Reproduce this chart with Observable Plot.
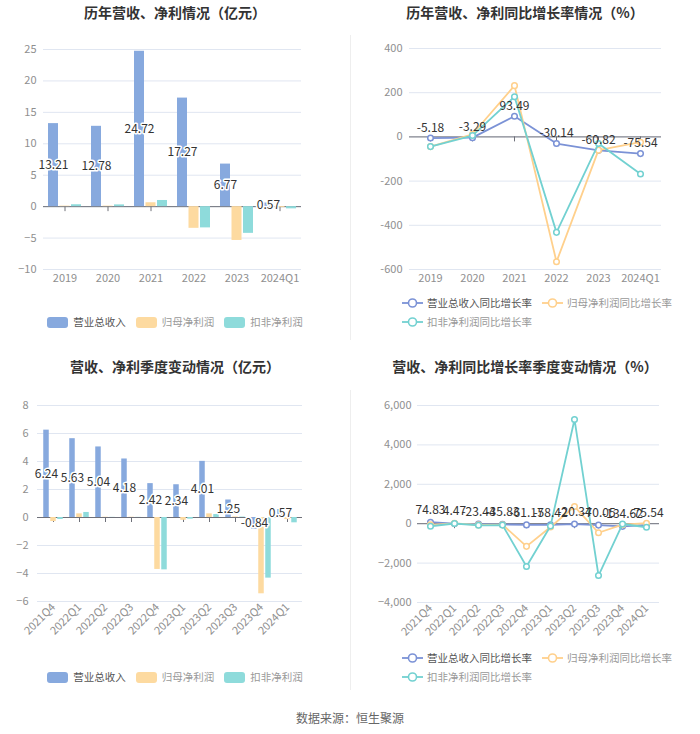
<!DOCTYPE html>
<html><head><meta charset="utf-8">
<script src="https://cdn.jsdelivr.net/npm/d3@7"></script>
<script src="https://cdn.jsdelivr.net/npm/@observablehq/plot@0.6"></script>
<style>
body{margin:0;background:#fff;font-family:"Noto Sans CJK SC","Noto Sans",sans-serif;}
#root{position:relative;width:700px;height:734px;overflow:hidden;background:#fff;}
.panel{position:absolute;}
.title{position:absolute;width:350px;text-align:center;font-size:14px;font-weight:bold;color:#333;line-height:20px;}
.legend{position:absolute;display:flex;font-size:10.5px;color:#666;line-height:14px;align-items:center;}
.item{display:flex;align-items:center;margin-right:10px;white-space:nowrap;}
.sw{display:inline-block;width:21px;height:11px;border-radius:3px;margin-right:5px;}
.item svg{margin-right:4px;}
.sep{position:absolute;left:350px;width:1px;background:#eeeeee;}
.src{position:absolute;left:0;width:700px;top:709px;text-align:center;font-size:12px;color:#666;}
</style>
</head><body>
<div id="root"></div>
<script>
// ---------- data ----------
const years = ["2019","2020","2021","2022","2023","2024Q1"];
const yearRevenue = [13.21, 12.78, 24.72, 17.27, 6.77, 0.57];
const yearNetProfit = [0.08, 0.08, 0.62, -3.45, -5.38, -0.15];
const yearDeducted = [0.30, 0.28, 0.98, -3.38, -4.25, -0.35];

const yearRevenueGrowth = [-5.18, -3.29, 93.49, -30.14, -60.82, -75.54];
const yearNetProfitGrowth = [-44, 12, 232, -565, -60, -24];
const yearDeductedGrowth = [-44, 6, 182, -432, -30, -168];

const quarters = ["2021Q4","2022Q1","2022Q2","2022Q3","2022Q4","2023Q1","2023Q2","2023Q3","2023Q4","2024Q1"];
const qRevenue = [6.24, 5.63, 5.04, 4.18, 2.42, 2.34, 4.01, 1.25, -0.84, 0.57];
const qNetProfit = [-0.29, 0.26, 0.02, 0.02, -3.71, -0.20, 0.26, 0.04, -5.45, -0.15];
const qDeducted = [-0.14, 0.36, 0.01, 0.01, -3.74, -0.12, 0.21, 0.03, -4.33, -0.38];

const qRevenueGrowth = [74.83, 4.47, -23.44, -35.83, -61.17, -58.42, -20.34, -70.05, -134.62, -75.54];
const qNetProfitGrowth = [-60, 20, -60, -50, -1150, -170, 870, -460, -47, 25];
const qDeductedGrowth = [-130, 10, -80, -70, -2170, -120, 5290, -2630, -16, -180];

const yTicksYearBar = [-10, -5, 0, 5, 10, 15, 20, 25];
const yTicksYearLine = [-600, -400, -200, 0, 200, 400];
const yTicksQBar = [-6, -4, -2, 0, 2, 4, 6, 8];
const yTicksQLine = [-4000, -2000, 0, 2000, 4000, 6000];

const seriesBar = ["营业总收入", "归母净利润", "扣非净利润"];
const seriesLine = ["营业总收入同比增长率", "归母净利润同比增长率", "扣非净利润同比增长率"];

// ---------- styles ----------
const BAR_COLORS = ["#87A9DE", "#FDDAA0", "#8EDBDB"];
const LINE_COLORS = ["#7B92D6", "#FFD08C", "#72D1D1"];
const GRID = "#E0E6F1";
const AXIS = "#6E7079";
const FONT = '"Noto Sans CJK SC","Noto Sans",sans-serif';

const root = document.getElementById("root");

function place(el, left, top) {
  const d = document.createElement("div");
  d.className = "panel";
  d.style.left = left + "px";
  d.style.top = top + "px";
  d.appendChild(el);
  root.appendChild(d);
}

function barChart(o) {
  const rows = o.cats.map((c, i) => ({cat: c, v0: o.s[0][i], v1: o.s[1][i], v2: o.s[2][i]}));
  const bw = (350 - o.ml - o.mr) / o.cats.length;
  const inset = (bw - o.barW) / 2;
  const bars = [0, 1, 2].map(k => Plot.barY(rows, {
    x: "cat", y: "v" + k, fill: BAR_COLORS[k], insetLeft: inset, insetRight: inset, dx: o.off[k]
  }));
  return Plot.plot({
    width: 350, height: o.height,
    marginTop: o.mt, marginBottom: o.mb, marginLeft: o.ml, marginRight: o.mr,
    x: {type: "band", domain: o.cats, padding: 0, axis: null},
    y: {domain: o.yDomain, axis: null},
    style: {fontFamily: FONT, fontSize: "11px", color: "#8f8f8f", background: "transparent"},
    marks: [
      Plot.gridY(o.yTicks, {stroke: GRID, strokeOpacity: 1}),
      Plot.axisY({ticks: o.yTicks, tickSize: 0, tickPadding: o.yPad, fontSize: 11, label: null}),
      Plot.axisX({tickSize: 0, tickPadding: o.xPad, tickRotate: o.rotate || 0, fontSize: 11, label: null}),
      Plot.ruleY([0], {stroke: AXIS}),
      Plot.ruleX(o.cats, {x: d => d, y1: 0, y2: 0, insetTop: 5, stroke: AXIS}),
      ...bars,
      Plot.text(rows, {x: "cat", y: d => d.v0 / 2, text: d => d.v0.toFixed(2), dx: o.off[0],
        fill: "#333", stroke: "white", strokeWidth: 3, fontSize: 12})
    ]
  });
}

function lineChart(o) {
  const rows = o.cats.map((c, i) => ({cat: c, v0: o.s[0][i], v1: o.s[1][i], v2: o.s[2][i]}));
  const marks = [
    Plot.gridY(o.yTicks, {stroke: GRID, strokeOpacity: 1}),
    Plot.axisY({ticks: o.yTicks, tickSize: 0, tickPadding: o.yPad, fontSize: 11, tickFormat: o.fmt, label: null}),
    Plot.axisX({tickSize: 0, tickPadding: o.xPad, tickRotate: o.rotate || 0, fontSize: 11, label: null}),
    Plot.ruleY([0], {stroke: AXIS}),
    Plot.ruleX(o.cats, {x: d => d, y1: 0, y2: 0, insetTop: 5, stroke: AXIS})
  ];
  for (const k of [0, 1, 2]) {
    marks.push(Plot.line(rows, {x: "cat", y: "v" + k, stroke: LINE_COLORS[k], strokeWidth: 1.8}));
    marks.push(Plot.dot(rows, {x: "cat", y: "v" + k, r: 2.8, fill: "white", stroke: LINE_COLORS[k], strokeWidth: 1.5}));
  }
  marks.push(Plot.text(rows, {x: "cat", y: "v0", text: d => d.v0.toFixed(2), dy: -o.labelDy,
    fill: "#333", fontSize: 12}));
  return Plot.plot({
    width: 350, height: o.height,
    marginTop: o.mt, marginBottom: o.mb, marginLeft: o.ml, marginRight: o.mr,
    x: {type: "point", domain: o.cats, padding: 0.5, axis: null},
    y: {domain: o.yDomain, axis: null},
    style: {fontFamily: FONT, fontSize: "11px", color: "#8f8f8f", background: "transparent"},
    marks
  });
}

// titles
function title(text, left, top) {
  const t = document.createElement("div");
  t.className = "title";
  t.style.left = left + "px";
  t.style.top = top + "px";
  t.textContent = text;
  root.appendChild(t);
}
title("历年营收、净利情况（亿元）", 0, 2);
title("历年营收、净利同比增长率情况（%）", 350, 2);
title("营收、净利季度变动情况（亿元）", 0, 356);
title("营收、净利同比增长率季度变动情况（%）", 350, 356);

// separators
for (const [t, h] of [[35, 305], [390, 300]]) {
  const s = document.createElement("div");
  s.className = "sep"; s.style.top = t + "px"; s.style.height = h + "px";
  root.appendChild(s);
}

// charts
place(barChart({cats: years, s: [yearRevenue, yearNetProfit, yearDeducted],
  height: 270, mt: 19, mb: 31, ml: 43, mr: 49, yDomain: [-10, 25], yTicks: yTicksYearBar,
  barW: 10, off: [-11.5, 0, 11.5], yPad: 7, xPad: 5}), 0, 30);

place(lineChart({cats: years, s: [yearRevenueGrowth, yearNetProfitGrowth, yearDeductedGrowth],
  height: 270, mt: 18, mb: 31, ml: 59, mr: 39, yDomain: [-600, 400], yTicks: yTicksYearLine,
  yPad: 7, xPad: 5, labelDy: 10, fmt: d => String(d)}), 350, 30);

place(barChart({cats: quarters, s: [qRevenue, qNetProfit, qDeducted],
  height: 270, mt: 20, mb: 54, ml: 37, mr: 48, yDomain: [-6, 8], yTicks: yTicksQBar,
  barW: 6, off: [-7, 0, 7], yPad: 9, xPad: 4, rotate: -45}), 0, 385);

place(lineChart({cats: quarters, s: [qRevenueGrowth, qNetProfitGrowth, qDeductedGrowth],
  height: 270, mt: 20, mb: 53, ml: 67, mr: 41, yDomain: [-4000, 6000], yTicks: yTicksQLine,
  yPad: 6, xPad: 4, rotate: -45, labelDy: 12, fmt: d3.format(",")}), 350, 385);

// legends
function barLegend(top) {
  const L = document.createElement("div");
  L.className = "legend";
  L.style.left = "0px"; L.style.width = "350px"; L.style.top = top + "px";
  L.style.justifyContent = "center";
  seriesBar.forEach((name, k) => {
    const it = document.createElement("span");
    it.className = "item";
    if (k === 2) it.style.marginRight = "0";
    it.innerHTML = `<span class="sw" style="background:${BAR_COLORS[k]}"></span><span style="color:${k === 0 ? '#555' : '#999'}">${name}</span>`;
    L.appendChild(it);
  });
  root.appendChild(L);
}
function lineLegend(top) {
  const rows = [[0, 1], [2]];
  rows.forEach((r, ri) => {
    const L = document.createElement("div");
    L.className = "legend";
    L.style.left = "402px"; L.style.top = (top + ri * 19) + "px";
    r.forEach(k => {
      const it = document.createElement("span");
      it.className = "item";
      it.innerHTML = `<svg width="21" height="12"><line x1="0" y1="6" x2="21" y2="6" stroke="${LINE_COLORS[k]}" stroke-width="1.8"/><circle cx="10.5" cy="6" r="4" fill="white" stroke="${LINE_COLORS[k]}" stroke-width="1.6"/></svg><span style="color:${k === 0 ? '#555' : '#999'}">${seriesLine[k]}</span>`;
      L.appendChild(it);
    });
    root.appendChild(L);
  });
}
barLegend(315);
lineLegend(296);
barLegend(670);
lineLegend(651);

const src = document.createElement("div");
src.className = "src";
src.textContent = "数据来源：恒生聚源";
root.appendChild(src);
</script>
</body></html>
